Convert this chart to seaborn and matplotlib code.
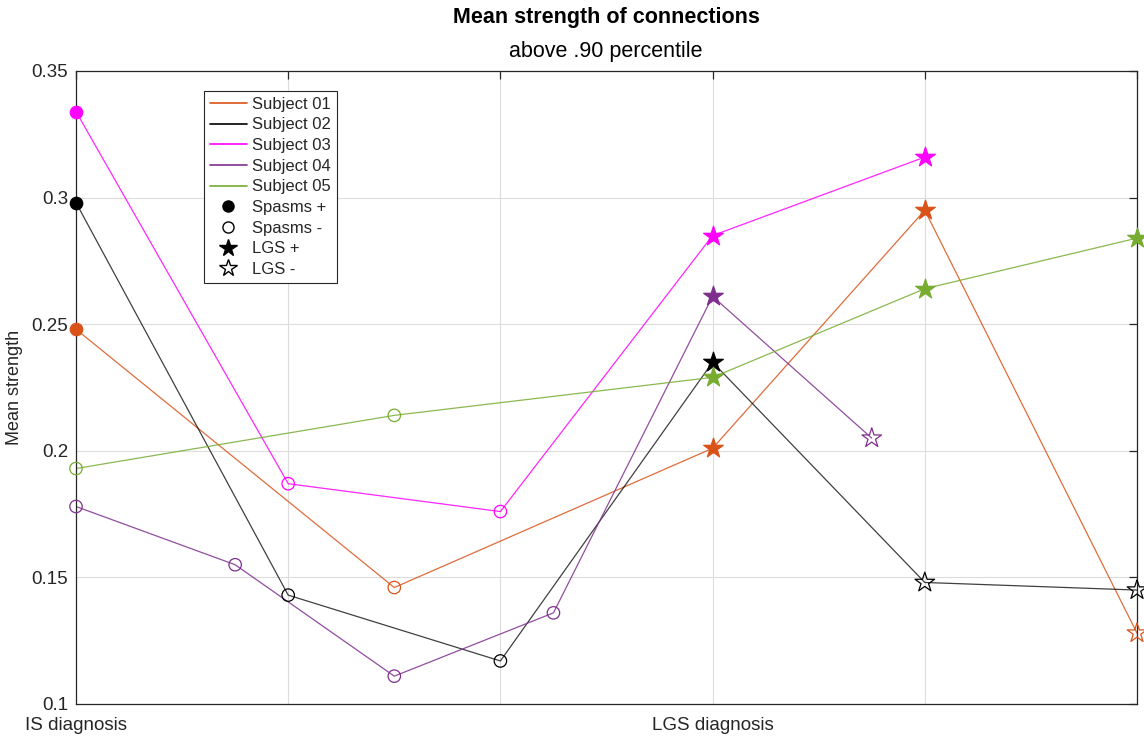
import matplotlib
matplotlib.use("Agg")
import matplotlib.pyplot as plt
from matplotlib.lines import Line2D
import seaborn as sns
import pandas as pd

# ---------------- data ----------------
subjects = ["Subject 01", "Subject 02", "Subject 03", "Subject 04", "Subject 05"]
colors = ["#D95319", "#000000", "#FF00FF", "#7E2F8E", "#77AC30"]

x_s01 = [1, 2.5, 4, 5, 6]
y_s01 = [0.248, 0.146, 0.201, 0.295, 0.128]
m_s01 = ["S+", "S-", "L+", "L+", "L-"]

x_s02 = [1, 2, 3, 4, 5, 6]
y_s02 = [0.298, 0.143, 0.117, 0.235, 0.148, 0.145]
m_s02 = ["S+", "S-", "S-", "L+", "L-", "L-"]

x_s03 = [1, 2, 3, 4, 5]
y_s03 = [0.334, 0.187, 0.176, 0.285, 0.316]
m_s03 = ["S+", "S-", "S-", "L+", "L+"]

x_s04 = [1, 1.75, 2.5, 3.25, 4, 4.75]
y_s04 = [0.178, 0.155, 0.111, 0.136, 0.261, 0.205]
m_s04 = ["S-", "S-", "S-", "S-", "L+", "L-"]

x_s05 = [1, 2.5, 4, 5, 6]
y_s05 = [0.193, 0.214, 0.229, 0.264, 0.284]
m_s05 = ["S-", "S-", "L+", "L+", "L+"]

xticks = [1, 2, 3, 4, 5, 6]
xticklabels = ["IS diagnosis", "", "", "LGS diagnosis", "", ""]
yticks = [0.1, 0.15, 0.2, 0.25, 0.3, 0.35]
yticklabels = ["0.1", "0.15", "0.2", "0.25", "0.3", "0.35"]

marker_labels = ["Spasms +", "Spasms -", "LGS +", "LGS -"]

title = "Mean strength of connections"
subtitle = "above .90 percentile"
ylabel = "Mean strength"

# ---------------- build long table ----------------
rows = []
for subj, xs, ys, ms in zip(subjects,
                            [x_s01, x_s02, x_s03, x_s04, x_s05],
                            [y_s01, y_s02, y_s03, y_s04, y_s05],
                            [m_s01, m_s02, m_s03, m_s04, m_s05]):
    for i, (xv, yv, mv) in enumerate(zip(xs, ys, ms)):
        rows.append({"subject": subj, "order": i, "x": xv, "y": yv, "kind": mv})
df = pd.DataFrame(rows)

# ---------------- plot ----------------
sns.set_style("white")
plt.rcParams["font.family"] = ["Liberation Sans", "DejaVu Sans"]

fig = plt.figure(figsize=(11.44, 7.38), dpi=100)
ax = fig.add_axes([76 / 1144, 34 / 738, (1137 - 76) / 1144, (704 - 71) / 738])

palette = dict(zip(subjects, colors))
marker_shape = {"S+": "o", "S-": "o", "L+": "*", "L-": "*"}
marker_size = {"S+": 80, "S-": 80, "L+": 220, "L-": 220}

for subj in subjects:
    d = df[df["subject"] == subj]
    col = palette[subj]
    sns.lineplot(data=d, x="x", y="y", sort=False, estimator=None,
                 color=col, linewidth=0.9, alpha=0.85 if subj != "Subject 02" else 0.75,
                 ax=ax, legend=False)
    for kind in ["S+", "S-", "L+", "L-"]:
        dk = d[d["kind"] == kind]
        if dk.empty:
            continue
        filled = kind.endswith("+")
        sns.scatterplot(data=dk, x="x", y="y", marker=marker_shape[kind],
                        s=marker_size[kind],
                        facecolor=col if filled else "none",
                        edgecolor=col, linewidth=0.9, ax=ax, legend=False,
                        zorder=3, clip_on=False)

ax.set_xlim(1, 6)
ax.set_ylim(0.1, 0.35)
ax.set_xticks(xticks)
ax.set_xticklabels(xticklabels, fontsize=13.5, color="#262626")
ax.set_yticks(yticks)
ax.set_yticklabels(yticklabels, fontsize=13.5, color="#262626")
ax.set_xlabel("")
ax.set_ylabel(ylabel, fontsize=13, color="#262626")
ax.yaxis.set_label_coords((23 - 76) / 1061, 0.5)

ax.grid(True, color="#dcdcdc", linewidth=0.8)
ax.set_axisbelow(True)
for sp in ax.spines.values():
    sp.set_visible(True)
    sp.set_color("#262626")
    sp.set_linewidth(0.9)
ax.tick_params(direction="in", length=6, width=0.9, top=True, right=True,
               colors="#262626")
ax.tick_params(axis="y", pad=5.5)
ax.tick_params(axis="x", pad=9)

# legend
handles = [Line2D([0], [0], color=c, lw=1.2) for c in colors]
handles += [
    Line2D([0], [0], ls="none", marker="o", ms=8, mfc="black", mec="black"),
    Line2D([0], [0], ls="none", marker="o", ms=8, mfc="none", mec="black"),
    Line2D([0], [0], ls="none", marker="*", ms=13, mfc="black", mec="black"),
    Line2D([0], [0], ls="none", marker="*", ms=13, mfc="none", mec="black"),
]
labels = subjects + marker_labels
leg = ax.legend(handles, labels, loc="upper left",
                bbox_to_anchor=((204 - 76) / 1061, (704 - 91) / 633),
                borderaxespad=0, fontsize=12, frameon=True, fancybox=False,
                framealpha=1, edgecolor="#262626", handlelength=2.2,
                handletextpad=0.35, labelspacing=0.34, borderpad=0.35)
leg.get_frame().set_linewidth(0.8)

fig.text(606 / 1144, 1 - 18 / 738, title, ha="center", va="center",
         fontsize=15.5, fontweight="bold", color="black")
fig.text(606 / 1144, 1 - 52 / 738, subtitle, ha="center", va="center",
         fontsize=15.5, color="black")

fig.savefig("out.png", dpi=100)
